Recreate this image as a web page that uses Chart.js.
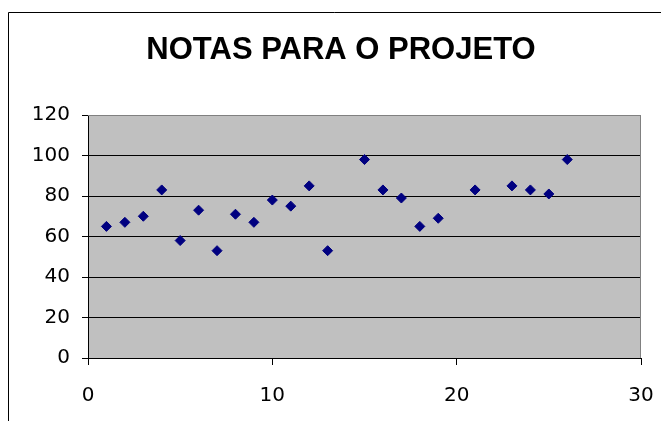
<!DOCTYPE html>
<html>
<head>
<meta charset="utf-8">
<script src="https://cdn.jsdelivr.net/npm/chart.js@4.4.1/dist/chart.umd.min.js"></script>
<style>
  html, body { margin: 0; padding: 0; background: #fff; }
  #wrap { width: 661px; height: 421px; }
</style>
</head>
<body>
<div id="wrap"><canvas id="grafico" width="661" height="421"></canvas></div>
<script>
// aluno (x) e nota (y)
const alunos = [1, 2, 3, 4, 5, 6, 7, 8, 9, 10, 11, 12, 13, 15, 16, 17, 18, 19, 21, 23, 24, 25, 26];
const notas = [65, 67, 70, 83, 58, 73, 53, 71, 67, 78, 75, 85, 53, 98, 83, 79, 65, 69, 83, 85, 83, 81, 98];
const titulo = 'NOTAS PARA O PROJETO';

const pontos = alunos.map((x, i) => ({ x: x, y: notas[i] }));

// fundo cinza da área do gráfico, moldura e título
const fundo = {
  id: 'fundo',
  beforeDraw(chart) {
    const ctx = chart.ctx;
    const a = chart.chartArea;
    ctx.save();
    ctx.fillStyle = '#fff';
    ctx.fillRect(0, 0, chart.width, chart.height);
    ctx.strokeStyle = '#000';
    ctx.lineWidth = 1;
    ctx.beginPath();
    ctx.moveTo(8.5, chart.height);
    ctx.lineTo(8.5, 12.5);
    ctx.lineTo(chart.width, 12.5);
    ctx.stroke();
    ctx.fillStyle = '#c0c0c0';
    ctx.fillRect(a.left, a.top, a.right - a.left, a.bottom - a.top);
    // título
    ctx.fillStyle = '#000';
    ctx.font = 'bold 31px "Liberation Sans", Arial';
    ctx.textAlign = 'center';
    ctx.textBaseline = 'alphabetic';
    ctx.fillText(titulo, 341, 58.5);
    ctx.restore();
  },
  beforeDatasetsDraw(chart) {
    const ctx = chart.ctx;
    const a = chart.chartArea;
    ctx.save();
    ctx.strokeStyle = '#808080';
    ctx.lineWidth = 1;
    ctx.beginPath();
    ctx.moveTo(a.left, a.top + 0.5);
    ctx.lineTo(a.right - 0.5, a.top + 0.5);
    ctx.lineTo(a.right - 0.5, a.bottom);
    ctx.stroke();
    ctx.restore();
  }
};

const fonteEixo = { family: 'DejaVu Sans', size: 20 };

new Chart(document.getElementById('grafico'), {
  type: 'scatter',
  data: {
    datasets: [{
      label: 'Notas',
      data: pontos,
      pointStyle: 'rectRot',
      pointRadius: 5,
      pointHoverRadius: 5,
      backgroundColor: '#000080',
      borderColor: '#000080',
      borderWidth: 1
    }]
  },
  options: {
    responsive: false,
    animation: false,
    layout: { padding: { left: 0, right: 20, top: 115, bottom: 0 } },
    plugins: {
      legend: { display: false },
      tooltip: { enabled: false },
      title: { display: false }
    },
    scales: {
      x: {
        type: 'linear',
        min: 0,
        max: 30,
        afterFit(scale) {
          scale.height = 63;
          scale.paddingLeft = 0;
          scale.paddingRight = 0;
        },
        ticks: {
          stepSize: 10,
          color: '#000',
          padding: 19,
          maxRotation: 0,
          font: fonteEixo
        },
        grid: { drawOnChartArea: false, drawTicks: true, tickLength: 7, color: '#000' },
        border: { color: '#000', width: 1 }
      },
      y: {
        min: 0,
        max: 120,
        afterFit(scale) {
          scale.width = 88;
          scale.paddingTop = 0;
          scale.paddingBottom = 0;
        },
        ticks: {
          stepSize: 20,
          color: '#000',
          padding: 12,
          font: fonteEixo
        },
        grid: {
          color: ctx => (ctx.tick && ctx.tick.value === 120) ? '#808080' : '#000',
          tickColor: '#000',
          tickLength: 6,
          lineWidth: 1
        },
        border: { color: '#000', width: 1 }
      }
    }
  },
  plugins: [fundo]
});
</script>
</body>
</html>
